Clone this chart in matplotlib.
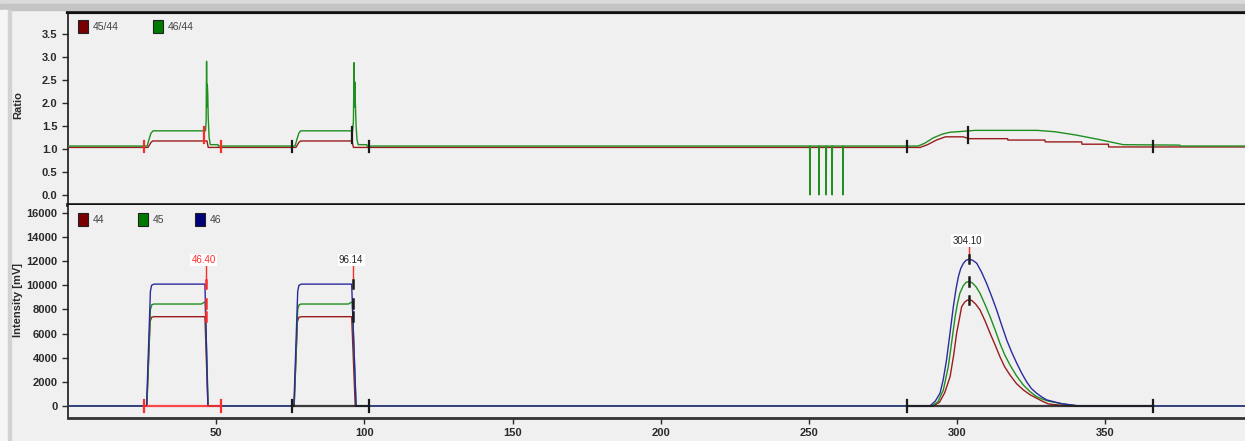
import matplotlib.pyplot as plt
from matplotlib.patches import Rectangle

plt.rcParams['font.family'] = 'Liberation Sans'

W, H = 1245, 441

# ratio traces (top panel)
r45_t = [0, 27.0, 28.0, 28.6, 46.9, 47.3, 76.9, 77.9, 78.5, 95.8, 96.3,
         287.5, 290.0, 293.0, 296.0, 302.0, 304.0, 317.0, 317.1, 329.6, 329.7,
         342.0, 342.1, 351.0, 351.1, 400]
r45_v = [1.03, 1.03, 1.14, 1.17, 1.17, 1.03, 1.03, 1.14, 1.17, 1.17, 1.03,
         1.03, 1.09, 1.19, 1.26, 1.26, 1.22, 1.22, 1.19, 1.19, 1.15,
         1.15, 1.10, 1.10, 1.04, 1.04]

r46_t = [0, 26.7, 27.4, 28.0, 28.7, 46.4, 46.6, 46.75, 46.9, 47.0, 47.15, 47.3,
         47.6, 48.0, 50.6, 50.7, 76.6, 77.3, 77.9, 78.5, 96.0, 96.3, 96.5, 96.65,
         96.8, 96.95, 97.2, 97.5, 97.9, 100.8, 100.9,
         250.2, 250.3, 250.4, 253.3, 253.4, 253.5, 255.7, 255.8, 255.9,
         257.7, 257.8, 257.9, 261.4, 261.5, 261.6,
         286.8, 289.0, 292.0, 295.0, 297.6, 300.0, 306.0, 327.0, 333.0, 340.0,
         348.0, 356.0, 375.0, 375.5, 400]
r46_v = [1.06, 1.06, 1.22, 1.34, 1.39, 1.39, 1.6, 2.9, 1.9, 2.4, 2.2, 1.7,
         1.25, 1.09, 1.09, 1.06, 1.06, 1.22, 1.34, 1.39, 1.39, 1.6, 2.87, 1.9,
         2.45, 2.0, 1.5, 1.2, 1.09, 1.09, 1.06,
         1.06, 0.0, 1.06, 1.06, 0.0, 1.06, 1.06, 0.0, 1.06,
         1.06, 0.0, 1.06, 1.06, 0.0, 1.06,
         1.06, 1.12, 1.24, 1.32, 1.36, 1.37, 1.40, 1.40, 1.37, 1.30,
         1.20, 1.09, 1.08, 1.06, 1.06]

# intensity traces (bottom panel)
i44_t = [0, 26.6, 27.7, 28.2, 29.0, 46.2, 47.2, 76.3, 77.4, 77.9, 78.8, 95.7, 96.9,
         292.0, 294.0, 295.8, 297.6, 298.8, 299.8, 300.8, 301.5, 302.5, 303.3, 304.0,
         305.0, 306.2, 307.7, 309.4, 311.1, 312.8, 314.4, 316.0, 317.8, 320.0,
         322.3, 324.5, 326.8, 328.8, 330.7, 333.5, 336.0, 340.0, 400]
i44_v = [0, 0, 7000, 7350, 7400, 7400, 0, 0, 7000, 7350, 7400, 7400, 0,
         0, 300, 1100, 2430, 4200, 6020, 7300, 8230, 8600, 8760, 8790,
         8730, 8450, 7960, 7050, 6020, 5050, 4090, 3250, 2570, 1850,
         1330, 940, 640, 380, 170, 90, 50, 0, 0]

i45_t = [0, 26.6, 27.8, 28.3, 29.0, 45.0, 46.0, 46.3, 47.3, 76.3, 77.5, 78.0, 78.8,
         94.6, 95.6, 95.9, 97.2, 291.5, 293.5, 295.3, 297.0, 298.2, 299.3, 300.1,
         300.9, 302.0, 303.0, 304.0, 305.0, 306.3, 307.7, 309.4, 311.1, 312.8,
         314.4, 316.0, 317.8, 320.0, 322.3, 324.5, 326.8, 328.8, 330.7, 336.0, 341.0, 400]
i45_v = [0, 0, 8000, 8400, 8450, 8450, 8600, 8600, 0, 0, 8000, 8400, 8450,
         8450, 8600, 8600, 0, 0, 350, 1300, 3260, 5400, 7400, 8500,
         9340, 9950, 10250, 10300, 10220, 9900, 9340, 8400, 7400, 6300,
         5200, 4250, 3400, 2500, 1740, 1200, 770, 560, 400, 150, 0, 0]

i46_t = [0, 26.5, 27.8, 28.2, 29.0, 46.2, 47.2, 76.2, 77.5, 77.9, 78.7, 95.7, 97.2,
         290.8, 292.6, 294.2, 295.3, 296.4, 297.6, 298.7, 299.6, 300.4, 301.2,
         302.1, 303.0, 304.0, 305.2, 306.6, 308.2, 309.9, 311.6, 313.3, 315.0,
         316.7, 318.4, 320.1, 321.8, 323.4, 325.0, 326.8, 328.5, 330.2, 335.0, 341.0, 400]
i46_v = [0, 0, 9500, 10000, 10100, 10100, 0, 0, 9500, 10000, 10100, 10100, 0,
         0, 400, 1050, 2200, 3810, 6100, 8230, 9700, 10720, 11400,
         11830, 12080, 12160, 12080, 11830, 11100, 10170, 9100, 7960, 6700,
         5470, 4450, 3540, 2700, 2010, 1450, 1050, 750, 500, 200, 0, 0]

# peak integration marks
peak_start = [25.6, 75.6, 283.0]
peak_apex = [46.4, 96.14, 304.1]
peak_end = [51.6, 101.6, 366.0]
peak_labels = ['46.40', '96.14', '304.10']
mark_colors = ['#ff2a2a', '#1a1a1a', '#1a1a1a']
label_colors = ['#ff2a2a', '#222222', '#222222']
apex_levels = [[7400, 8500, 10100], [7400, 8500, 10100], [8790, 10300, 12160]]
label_y = [12100, 12100, 13700]

red, green, blue = '#9a1c1c', '#1f8f1f', '#2b2b9e'
sq_red, sq_green, sq_blue = '#7a0000', '#007a00', '#00007a'
bg = '#f0f0f0'

fig = plt.figure(figsize=(W / 100, H / 100), dpi=100, facecolor=bg)

# window chrome around the plot
fig.patches.append(Rectangle((0, 1 - 4 / H), 1, 4 / H, transform=fig.transFigure,
                             color='#dadada', zorder=0))
fig.patches.append(Rectangle((0, 1 - 10 / H), 1, 6 / H, transform=fig.transFigure,
                             color='#c4c4c4', zorder=0))
fig.patches.append(Rectangle((0, 0), 8 / W, 1 - 10 / H, transform=fig.transFigure,
                             color='#f6f6f6', zorder=0))
fig.patches.append(Rectangle((8 / W, 0), 3 / W, 1 - 10 / H, transform=fig.transFigure,
                             color='#d2d2d2', zorder=0))

x0, x1 = 68, 1253.6
ax1 = fig.add_axes([x0 / W, 1 - 205 / H, (x1 - x0) / W, (205 - 12) / H], facecolor=bg)
ax2 = fig.add_axes([x0 / W, 1 - 418 / H, (x1 - x0) / W, (418 - 205) / H], facecolor=bg)

tick_kw = dict(labelsize=8, colors='#2a2a2a', length=4, width=1, direction='out')

# ---- top: ratios
ax1.plot(r45_t, r45_v, color=red, lw=1.0, zorder=3)
ax1.plot(r46_t, r46_v, color=green, lw=1.0, zorder=3)
for s, a, e, c in zip(peak_start, peak_apex, peak_end, mark_colors):
    ax1.plot([s, s], [0.92, 1.16], color=c, lw=1.6, zorder=4)
    ax1.plot([e, e], [0.92, 1.16], color=c, lw=1.6, zorder=4)
    ax1.plot([a - 0.4, a - 0.4], [1.12, 1.48], color=c, lw=1.6, zorder=4)
ax1.set_xlim(0, 400)
ax1.set_ylim(-0.22, 3.97)
ax1.set_yticks([0, 0.5, 1.0, 1.5, 2.0, 2.5, 3.0, 3.5])
ax1.set_yticklabels([f'{v:.1f}' for v in ax1.get_yticks()])
ax1.set_xticks([])
ax1.tick_params(axis='y', **tick_kw)

# ---- bottom: intensities
ax2.plot(i44_t, i44_v, color=red, lw=1.0, zorder=3)
ax2.plot(i45_t, i45_v, color=green, lw=1.0, zorder=3)
ax2.plot(i46_t, i46_v, color=blue, lw=1.0, zorder=3)
for s, a, e, c, lc, lev, ly, lab in zip(peak_start, peak_apex, peak_end, mark_colors,
                                        label_colors, apex_levels, label_y, peak_labels):
    ax2.plot([s, e], [0, 0], color=c, lw=1.6, alpha=0.85, zorder=4)
    ax2.plot([s, s], [-500, 500], color=c, lw=1.6, zorder=4)
    ax2.plot([e, e], [-500, 500], color=c, lw=1.6, zorder=4)
    for v in lev:
        ax2.plot([a, a], [v - 350, v + 350], color=c, lw=1.8, zorder=5)
    ax2.plot([a, a], [max(lev), ly - 500], color='#ff2a2a', lw=1.0, zorder=4)
    ax2.text(a - 0.6, ly, lab, color=lc, fontsize=7, ha='center', va='center', zorder=6,
             bbox=dict(boxstyle='square,pad=0.15', fc='white', ec='none'))
ax2.set_xlim(0, 400)
ax2.set_ylim(-1000, 16660)
ax2.set_yticks(range(0, 16001, 2000))
ax2.set_xticks([50, 100, 150, 200, 250, 300, 350])
ax2.tick_params(axis='both', **tick_kw)

for ax in (ax1, ax2):
    ax.spines['right'].set_visible(False)
    ax.spines['left'].set_linewidth(1.2)
    ax.spines['left'].set_color('#1a1a1a')
    for lbl in ax.get_xticklabels() + ax.get_yticklabels():
        lbl.set_fontweight('bold')
ax1.spines['top'].set_linewidth(3)
ax1.spines['top'].set_color('#111111')
ax1.spines['bottom'].set_linewidth(2.6)
ax1.spines['bottom'].set_color('#111111')
ax2.spines['top'].set_visible(False)
ax2.spines['bottom'].set_linewidth(2)
ax2.spines['bottom'].set_color('#333333')

fig.text(18 / W, 1 - 105 / H, 'Ratio', rotation=90, fontsize=8, color='#2a2a2a',
         fontweight='bold', ha='center', va='center')
fig.text(18 / W, 1 - 300 / H, 'Intensity [mV]', rotation=90, fontsize=8, color='#2a2a2a',
         fontweight='bold', ha='center', va='center')

# legends
def legend_item(px, py, h, color, label, tx):
    fig.patches.append(Rectangle((px / W, 1 - (py + h) / H), 10 / W, h / H,
                                 transform=fig.transFigure, fc=color, ec='#222222',
                                 lw=0.8, zorder=10))
    fig.text(tx / W, 1 - (py + h / 2) / H, label, fontsize=7.5, color='#444444',
             ha='left', va='center', zorder=10)

legend_item(78, 20, 13, sq_red, '45/44', 93)
legend_item(153, 20, 13, sq_green, '46/44', 168)
legend_item(78, 213, 13, sq_red, '44', 93)
legend_item(138, 213, 13, sq_green, '45', 153)
legend_item(195, 213, 13, sq_blue, '46', 210)

fig.savefig('out.png', dpi=100, facecolor=fig.get_facecolor())
